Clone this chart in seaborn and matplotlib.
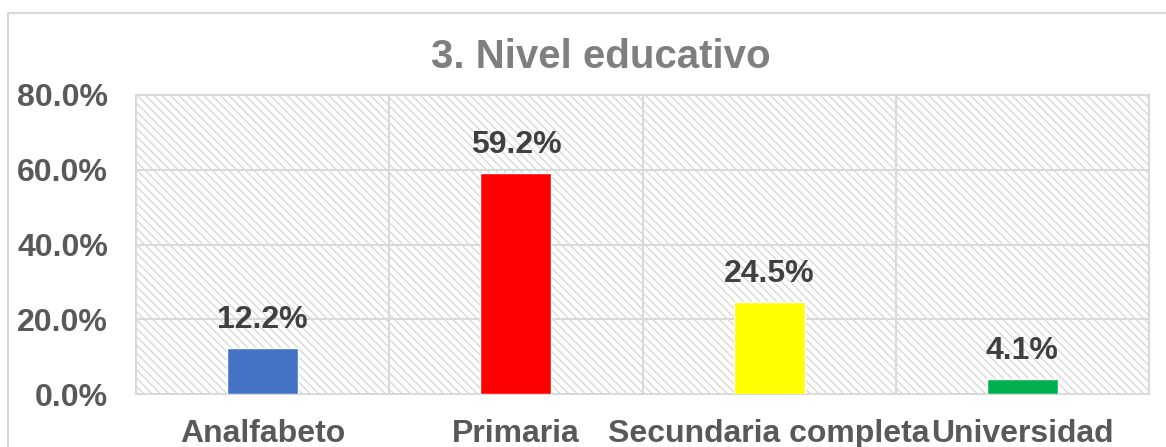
import matplotlib
matplotlib.use("Agg")
import matplotlib.pyplot as plt
import seaborn as sns
import pandas as pd
from matplotlib.patches import Rectangle
from matplotlib.ticker import FuncFormatter, MultipleLocator

# Data
categories = ["Analfabeto", "Primaria", "Secundaria completa", "Universidad"]
values = [12.2, 59.2, 24.5, 4.1]
colors = ["#4472C4", "#FF0000", "#FFFF00", "#00B050"]
title = "3. Nivel educativo"

df = pd.DataFrame({"nivel": categories, "pct": values})

sns.set_theme(style="white")
plt.rcParams["font.family"] = ["Liberation Sans", "DejaVu Sans"]
plt.rcParams["hatch.linewidth"] = 0.9

fig = plt.figure(figsize=(11.66, 4.47), dpi=100)
ax = fig.add_axes([136 / 1166, 1 - 394 / 447, (1149 - 136) / 1166, (394 - 95) / 447])

# outer chart border
fig.patches.append(Rectangle((8 / 1166, -0.1), 1.2, 1 - 13 / 447 + 0.1,
                             transform=fig.transFigure, facecolor="none",
                             edgecolor="#d9d9d9", lw=1.5))

# hatched plot area background
ax.add_patch(Rectangle((0, 0), 1, 1, transform=ax.transAxes, facecolor="white",
                       edgecolor="#d6d6d6", hatch="\\" * 4, lw=0, zorder=0))

sns.barplot(data=df, x="nivel", y="pct", hue="nivel", palette=colors,
            width=0.28, legend=False, ax=ax, zorder=3, saturation=1)

ax.set_ylim(0, 80)
ax.set_xlim(-0.5, len(categories) - 0.5)
ax.yaxis.set_major_locator(MultipleLocator(20))
ax.yaxis.set_major_formatter(FuncFormatter(lambda v, p: f"{v:.1f}%"))
ax.set_xlabel("")
ax.set_ylabel("")

# gridlines
for yv in [20, 40, 60]:
    ax.axhline(yv, color="#d9d9d9", lw=1.5, zorder=1)
for xv in [0.5, 1.5, 2.5]:
    ax.axvline(xv, color="#d9d9d9", lw=1.5, zorder=1)
for s in ax.spines.values():
    s.set_color("#d9d9d9")
    s.set_linewidth(1.5)

ax.tick_params(axis="y", length=0, pad=20, labelsize=23, labelcolor="#595959")
ax.tick_params(axis="x", length=0, pad=18, labelsize=23, labelcolor="#595959")
for lab in ax.get_xticklabels() + ax.get_yticklabels():
    lab.set_fontweight("bold")

for i, v in enumerate(values):
    ax.text(i, v + 3.5, f"{v:.1f}%", ha="center", va="bottom", fontsize=23,
            fontweight="bold", color="#404040", zorder=4)

fig.text(0.515, 1 - 57 / 447, title, ha="center", va="center", fontsize=29,
         fontweight="bold", color="#7f7f7f")

fig.savefig("out.png", dpi=100)
